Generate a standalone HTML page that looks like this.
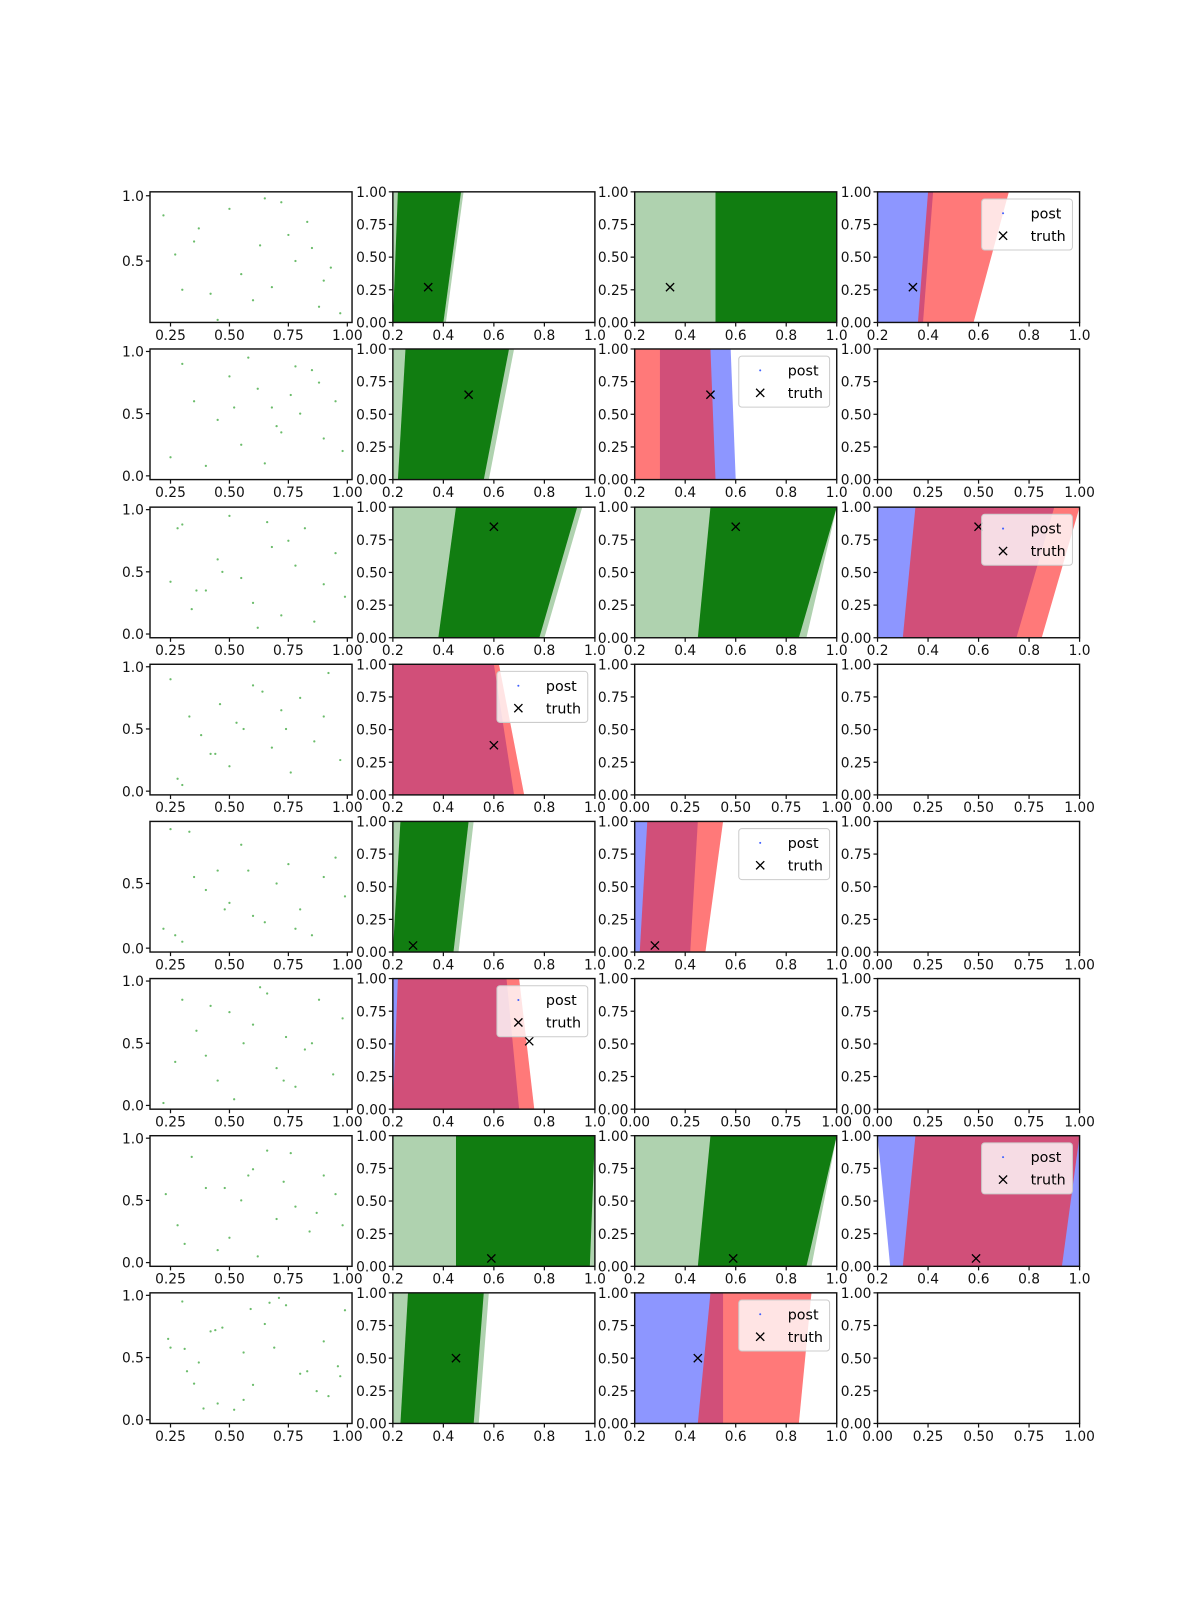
<!DOCTYPE html>
<html><head><meta charset="utf-8"><style>
html,body{margin:0;padding:0;background:#fff;}
svg{display:block;font-family:"DejaVu Sans","Liberation Sans",sans-serif;}
</style></head><body>
<svg id="fig" width="1200" height="1600" viewBox="0 0 1200 1600" xmlns="http://www.w3.org/2000/svg">
<rect width="1200" height="1600" fill="#fff"/>
<g id="root" transform="scale(1.0204)"></g>
</svg>
<script>
// ---- layout ----
const colX=[147,385,622,860], rowY=[188,342,497,651,805,959,1113,1267], PW=198, PH=128;
// ---- data ----
const panelTypes=[
 ['dots','green','green','rb'],
 ['dots','green','rb','empty'],
 ['dots','green','green','rb'],
 ['dots','rb','empty','empty'],
 ['dots','green','rb','empty'],
 ['dots','rb','empty','empty'],
 ['dots','green','green','rb'],
 ['dots','green','rb','empty']];
const dotYLim=[[0.03,1.03],[-0.03,1.02],[-0.03,1.02],[-0.03,1.02],[-0.03,0.98],[-0.03,1.02],[-0.03,1.02],[-0.03,1.02]];
const dotYTicks=[[0.5,1.0],[0,0.5,1.0],[0,0.5,1.0],[0,0.5,1.0],[0,0.5],[0,0.5,1.0],[0,0.5,1.0],[0,0.5,1.0]];
const dotsX=[
 [0.22,0.3,0.37,0.42,0.5,0.55,0.63,0.68,0.72,0.78,0.83,0.88,0.93,0.97,0.27,0.35,0.6,0.75,0.9,0.45,0.85,0.65],
 [0.25,0.3,0.35,0.45,0.5,0.55,0.62,0.68,0.72,0.76,0.8,0.85,0.9,0.95,0.98,0.4,0.58,0.7,0.88,0.65,0.52,0.78],
 [0.25,0.3,0.34,0.4,0.45,0.5,0.55,0.6,0.68,0.72,0.78,0.82,0.9,0.95,0.99,0.28,0.62,0.75,0.47,0.86,0.36,0.66],
 [0.25,0.28,0.33,0.38,0.42,0.46,0.5,0.56,0.6,0.68,0.72,0.76,0.8,0.86,0.92,0.97,0.3,0.53,0.64,0.74,0.44,0.9],
 [0.22,0.27,0.3,0.35,0.4,0.45,0.5,0.55,0.6,0.65,0.7,0.75,0.8,0.85,0.9,0.95,0.99,0.33,0.58,0.48,0.78,0.25],
 [0.22,0.3,0.36,0.4,0.45,0.5,0.56,0.6,0.66,0.7,0.74,0.78,0.82,0.88,0.94,0.98,0.27,0.52,0.63,0.85,0.42,0.73],
 [0.23,0.28,0.34,0.4,0.45,0.5,0.55,0.6,0.66,0.7,0.73,0.78,0.84,0.9,0.95,0.98,0.31,0.48,0.62,0.76,0.87,0.58],
 [0.24,0.25,0.3,0.31,0.32,0.35,0.37,0.39,0.42,0.45,0.47,0.52,0.56,0.59,0.6,0.65,0.67,0.69,0.71,0.74,0.8,0.83,0.9,0.92,0.96,0.97,0.99,0.56,0.44,0.87]];
const dotsY=[
 [0.85,0.28,0.75,0.25,0.9,0.4,0.62,0.3,0.95,0.5,0.8,0.15,0.45,0.1,0.55,0.65,0.2,0.7,0.35,0.05,0.6,0.98],
 [0.15,0.9,0.6,0.45,0.8,0.25,0.7,0.55,0.35,0.65,0.5,0.85,0.3,0.6,0.2,0.08,0.95,0.4,0.75,0.1,0.55,0.88],
 [0.42,0.88,0.2,0.35,0.6,0.95,0.45,0.25,0.7,0.15,0.55,0.85,0.4,0.65,0.3,0.85,0.05,0.75,0.5,0.1,0.35,0.9],
 [0.9,0.1,0.6,0.45,0.3,0.7,0.2,0.5,0.85,0.35,0.65,0.15,0.75,0.4,0.95,0.25,0.05,0.55,0.8,0.5,0.3,0.6],
 [0.15,0.1,0.05,0.55,0.45,0.6,0.35,0.8,0.25,0.2,0.5,0.65,0.3,0.1,0.55,0.7,0.4,0.9,0.6,0.3,0.15,0.92],
 [0.02,0.85,0.6,0.4,0.2,0.75,0.5,0.65,0.9,0.3,0.55,0.15,0.45,0.85,0.25,0.7,0.35,0.05,0.95,0.5,0.8,0.2],
 [0.55,0.3,0.85,0.6,0.1,0.2,0.5,0.75,0.9,0.35,0.65,0.45,0.25,0.7,0.55,0.3,0.15,0.6,0.05,0.88,0.4,0.7],
 [0.65,0.58,0.95,0.57,0.39,0.29,0.46,0.09,0.71,0.13,0.74,0.08,0.16,0.89,0.28,0.77,0.94,0.58,0.98,0.92,0.37,0.39,0.63,0.19,0.43,0.35,0.88,0.54,0.72,0.23]];
const greenPanels=[[0,1],[0,2],[1,1],[2,1],[2,2],[4,1],[6,1],[6,2],[7,1]];
const greenCore=[[0.2,0.40,0.22,0.47],[0.52,1.0,0.52,1.0],[0.22,0.56,0.25,0.66],[0.38,0.78,0.45,0.93],[0.45,0.85,0.5,1.0],[0.2,0.44,0.23,0.5],[0.45,0.98,0.45,1.0],[0.45,0.88,0.5,1.0],[0.23,0.52,0.26,0.56]];
const greenHalo=[[0.2,0.41,0.2,0.48],[0.2,1.0,0.2,1.0],[0.2,0.58,0.2,0.68],[0.2,0.8,0.2,0.95],[0.2,0.88,0.2,1.0],[0.2,0.46,0.2,0.52],[0.2,1.0,0.2,1.0],[0.2,0.9,0.2,1.0],[0.2,0.54,0.2,0.58]];
const rbPanels=[[0,3],[1,2],[2,3],[3,1],[4,2],[5,1],[6,3],[7,2]];
const blueCloud=[[0.2,0.38,0.2,0.42],[0.3,0.6,0.3,0.58],[0.2,0.75,0.2,0.9],[0.2,0.68,0.2,0.6],[0.2,0.42,0.2,0.45],[0.2,0.7,0.2,0.65],[0.25,1.0,0.2,1.0],[0.2,0.55,0.2,0.55]];
const redCloud=[[0.36,0.58,0.4,0.72],[0.2,0.52,0.2,0.5],[0.3,0.85,0.35,1.0],[0.2,0.72,0.2,0.62],[0.22,0.48,0.25,0.55],[0.2,0.76,0.22,0.7],[0.3,0.93,0.35,1.0],[0.45,0.85,0.5,0.9]];
const truthX=[0.34,0.5,0.6,0.6,0.28,0.74,0.59,0.45];
const truthY=[0.27,0.65,0.85,0.38,0.05,0.52,0.06,0.5];
const tickXLabels02=['0.2','0.4','0.6','0.8','1.0'];
const tickXVals02=[0.2,0.4,0.6,0.8,1.0];
const tickXLabels0=['0.00','0.25','0.50','0.75','1.00'];
const tickVals0=[0,0.25,0.5,0.75,1.0];
const dotXTicks=[0.25,0.5,0.75,1.0];

// ---- drawing ----
const NS='http://www.w3.org/2000/svg', svg=document.getElementById('root');
function mk(tag,attrs,parent){const e=document.createElementNS(NS,tag);for(const k in attrs)e.setAttribute(k,attrs[k]);(parent||svg).appendChild(e);return e;}
function scale(d0,d1,p0,p1){return v=>p0+(v-d0)/(d1-d0)*(p1-p0);}
let clipId=0;
function panel(r,c,xlim,ylim){
 const x0=colX[c],y0=rowY[r];
 const g=mk('g',{});
 
 
 const id='clip'+(clipId++);
 const cp=mk('clipPath',{id:id},g);mk('rect',{x:x0,y:y0,width:PW,height:PH},cp);
 const plot=mk('g',{'clip-path':'url(#'+id+')'},g);
 return {g,plot,sx:scale(xlim[0],xlim[1],x0,x0+PW),sy:scale(ylim[0],ylim[1],y0+PH,y0),x0,y0};
}
function axes(P,xt,xl,yt,yl){
 const g=P.g;
 const fr=mk('rect',{x:P.x0,y:P.y0,width:PW,height:PH,fill:'none',stroke:'#111','stroke-width':1.4},g);
 
 xt.forEach((v,i)=>{const x=P.sx(v);mk('line',{x1:x,x2:x,y1:P.y0+PH,y2:P.y0+PH+4,stroke:'#111','stroke-width':1.2},g);
  const t=mk('text',{x:x,y:P.y0+PH+17,'font-size':13.5,'text-anchor':'middle',fill:'#111'},g);t.textContent=xl[i];
  });
 yt.forEach((v,i)=>{const y=P.sy(v);mk('line',{x1:P.x0-4,x2:P.x0,y1:y,y2:y,stroke:'#111','stroke-width':1.2},g);
  const t=mk('text',{x:P.x0-6,y:y+5,'font-size':13.5,'text-anchor':'end',fill:'#111'},g);t.textContent=yl[i];
  });
}
function trap(P,e,attrs,name){
 const pts=[[e[0],0],[e[1],0],[e[3],1],[e[2],1]].map(p=>P.sx(p[0])+','+P.sy(p[1])).join(' ');
 const p=mk('polygon',Object.assign({points:pts},attrs),P.plot);
 
}
function truth(P,r){
 const x=P.sx(truthX[r]),y=P.sy(truthY[r]);
 const t=mk('path',{d:`M${x-4},${y-4}L${x+4},${y+4}M${x-4},${y+4}L${x+4},${y-4}`,stroke:'#000','stroke-width':1.3},P.g);
 
}
function legend(P){
 const lx=P.x0+PW-96,ly=P.y0+7;
 const g=mk('g',{},P.g);
 
 mk('rect',{x:lx,y:ly,width:89,height:50,rx:3,fill:'#fff','fill-opacity':0.8,stroke:'#ccc'},g);
 mk('circle',{cx:lx+21,cy:ly+14,r:1,fill:'#4060ff'},g);
 const t1=mk('text',{x:lx+48,y:ly+19,'font-size':14},g);t1.textContent='post';
 
 const x=lx+21,y=ly+36;
 mk('path',{d:`M${x-4},${y-4}L${x+4},${y+4}M${x-4},${y+4}L${x+4},${y-4}`,stroke:'#000','stroke-width':1.3},g);
 const t2=mk('text',{x:lx+48,y:ly+41,'font-size':14},g);t2.textContent='truth';
 
}
for(let r=0;r<8;r++){
 for(let c=0;c<4;c++){
  const type=panelTypes[r][c];
  if(type==='dots'){
   const P=panel(r,c,[0.163,1.02],dotYLim[r]);
   dotsX[r].forEach((v,i)=>{const d=mk('circle',{cx:P.sx(v),cy:P.sy(dotsY[r][i]),r:1.1,fill:'#2ca02c','fill-opacity':0.7},P.plot);
    });
   axes(P,dotXTicks,['0.25','0.50','0.75','1.00'],dotYTicks[r],dotYTicks[r].map(v=>v.toFixed(1)));
  } else if(type==='empty'){
   const P=panel(r,c,[0,1],[0,1]);
   axes(P,tickVals0,tickXLabels0,tickVals0,tickXLabels0);
  } else if(type==='green'){
   const P=panel(r,c,[0.2,1.0],[0,1]);
   const k=greenPanels.findIndex(p=>p[0]===r&&p[1]===c);
   trap(P,greenHalo[k],{fill:'#1a7f1a','fill-opacity':0.35},'posterior-halo');
   trap(P,greenCore[k],{fill:'#087808','fill-opacity':0.95},'posterior-cloud');
   truth(P,r);
   axes(P,tickXVals02,tickXLabels02,tickVals0,tickXLabels0);
  } else {
   const P=panel(r,c,[0.2,1.0],[0,1]);
   const k=rbPanels.findIndex(p=>p[0]===r&&p[1]===c);
   trap(P,blueCloud[k],{fill:'#3040ff','fill-opacity':0.55},'posterior-blue');
   trap(P,redCloud[k],{fill:'#ff2020','fill-opacity':0.6},'posterior-red');
   truth(P,r);
   legend(P);
   axes(P,tickXVals02,tickXLabels02,tickVals0,tickXLabels0);
  }
 }
}
</script>
</body></html>
